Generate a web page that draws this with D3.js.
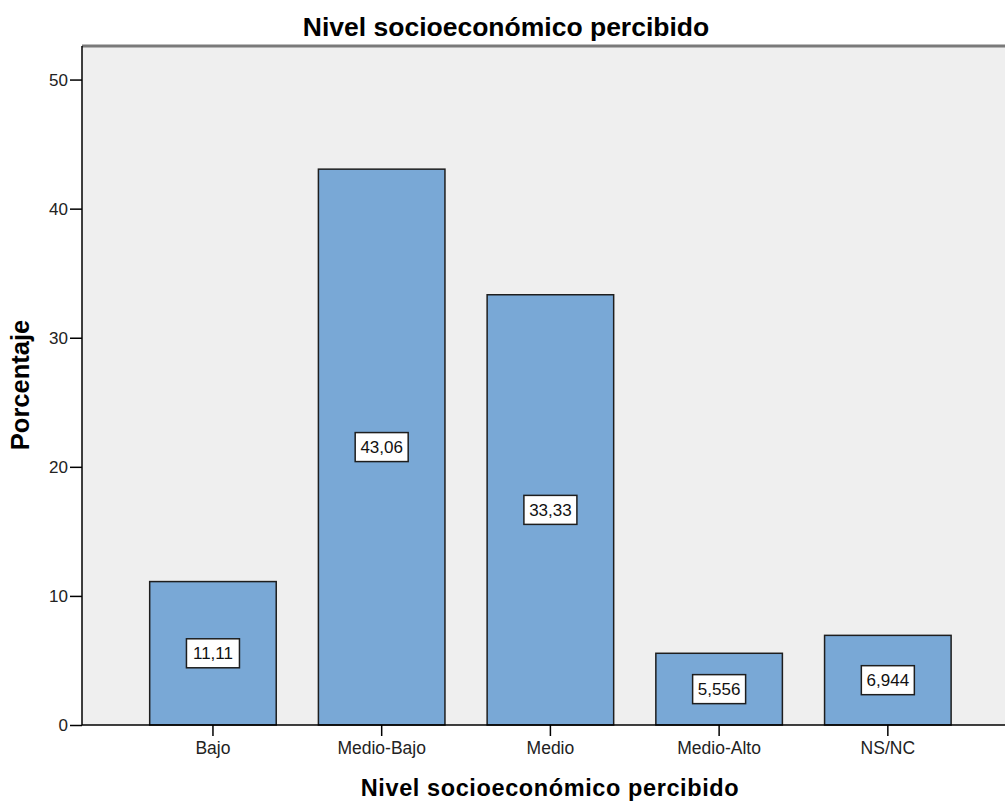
<!DOCTYPE html>
<html>
<head>
<meta charset="utf-8">
<script src="https://cdn.jsdelivr.net/npm/d3@7"></script>
<style>
  html, body { margin: 0; padding: 0; background: #fff; }
  svg { display: block; font-family: "Liberation Sans", Arial, sans-serif; }
</style>
</head>
<body>
<svg id="chart" width="1005" height="801"></svg>
<script>
// Nivel socioeconómico percibido: porcentaje por categoría
const categories = ["Bajo", "Medio-Bajo", "Medio", "Medio-Alto", "NS/NC"];
const percentages = [11.11, 43.06, 33.33, 5.556, 6.944];
const valueLabels = ["11,11", "43,06", "33,33", "5,556", "6,944"];
const yTicks = [0, 10, 20, 30, 40, 50];

const FONT = "\"Liberation Sans\", Arial, sans-serif";
const svg = d3.select("#chart");
const plot = { left: 82, right: 1005, top: 46, bottom: 725 };

const x = d3.scaleBand()
  .domain(categories)
  .range([128.6, 972.2])
  .paddingInner(0.25)
  .paddingOuter(0.125);

const y = d3.scaleLinear()
  .domain([0, 52.6])
  .range([plot.bottom, plot.top]);

// plot background
svg.append("rect")
  .attr("x", plot.left).attr("y", plot.top)
  .attr("width", plot.right - plot.left).attr("height", plot.bottom - plot.top)
  .attr("fill", "#efefef");

// top frame line
svg.append("line")
  .attr("x1", plot.left).attr("x2", plot.right)
  .attr("y1", plot.top).attr("y2", plot.top)
  .attr("stroke", "#7a7a7a").attr("stroke-width", 3);

// bars
svg.selectAll("rect.bar")
  .data(categories)
  .join("rect")
  .attr("class", "bar")
  .attr("x", d => x(d))
  .attr("y", (d, i) => y(percentages[i]))
  .attr("width", x.bandwidth())
  .attr("height", (d, i) => y(0) - y(percentages[i]))
  .attr("fill", "#79a8d6")
  .attr("stroke", "#1e1e1e")
  .attr("stroke-width", 1.5);

// value labels in white boxes at bar mid-height
const lbl = svg.selectAll("g.vlabel")
  .data(categories)
  .join("g")
  .attr("class", "vlabel")
  .attr("transform", (d, i) => `translate(${x(d) + x.bandwidth() / 2},${y(percentages[i] / 2)})`);

lbl.append("rect")
  .attr("x", -26.5).attr("y", -14.5)
  .attr("width", 53).attr("height", 29)
  .attr("fill", "#fff")
  .attr("stroke", "#1e1e1e")
  .attr("stroke-width", 1.5);

lbl.append("text")
  .attr("text-anchor", "middle")
  .attr("dy", "0.36em")
  .attr("font-size", 17)
  .attr("fill", "#111")
  .text((d, i) => valueLabels[i]);

// y axis
const yAxis = svg.append("g")
  .attr("transform", `translate(${plot.left},0)`)
  .call(d3.axisLeft(y).tickValues(yTicks).tickSize(12).tickPadding(2).tickFormat(d3.format("d")));
yAxis.select(".domain").attr("stroke", "#000").attr("stroke-width", 1.5)
  .attr("d", `M0,${plot.bottom}V${plot.top}`);
yAxis.selectAll(".tick line").attr("stroke", "#000").attr("stroke-width", 1.5);
yAxis.selectAll(".tick text").attr("font-size", 17).attr("fill", "#222")
  .attr("font-family", FONT);

// x axis
const xAxis = svg.append("g")
  .attr("transform", `translate(0,${plot.bottom})`)
  .call(d3.axisBottom(x).tickSize(11).tickPadding(6));
xAxis.select(".domain").attr("stroke", "#000").attr("stroke-width", 1.5)
  .attr("d", `M${plot.left},0H${plot.right}`);
xAxis.selectAll(".tick line").attr("stroke", "#000").attr("stroke-width", 1.5);
xAxis.selectAll(".tick text").attr("font-size", 17.5).attr("fill", "#222")
  .attr("font-family", FONT);

// titles
svg.append("text")
  .attr("x", 506).attr("y", 36)
  .attr("text-anchor", "middle")
  .attr("font-size", 26.5).attr("font-weight", "bold")
  .text("Nivel socioeconómico percibido");

svg.append("text")
  .attr("x", 550).attr("y", 796)
  .attr("text-anchor", "middle")
  .attr("font-size", 23.5).attr("font-weight", "bold")
  .attr("letter-spacing", 0.6)
  .text("Nivel socioeconómico percibido");

svg.append("text")
  .attr("transform", "translate(29,385) rotate(-90)")
  .attr("text-anchor", "middle")
  .attr("font-size", 25.5).attr("font-weight", "bold")
  .text("Porcentaje");
</script>
</body>
</html>
